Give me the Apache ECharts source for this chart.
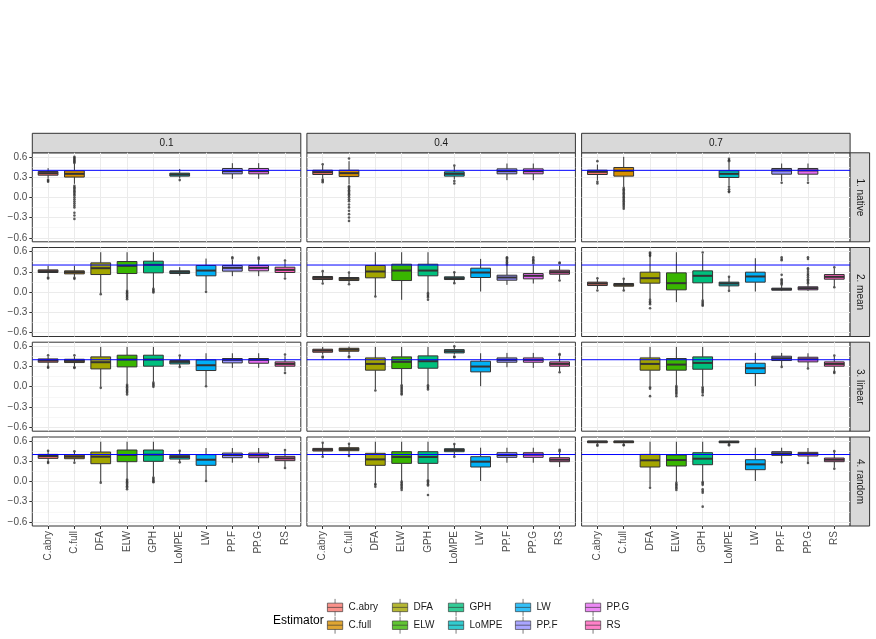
<!DOCTYPE html>
<html>
<head>
<meta charset="utf-8">
<script src="https://cdn.jsdelivr.net/npm/echarts@6.0.0/dist/echarts.min.js"></script>
<style>
  html, body { margin: 0; padding: 0; background: #fff; }
  #chart { width: 876px; height: 639px; }
</style>
</head>
<body>
<div id="chart"></div>
<script>
// 估計量與配色 (ggplot hue)
const estimators = ['C.abry', 'C.full', 'DFA', 'ELW', 'GPH', 'LoMPE', 'LW', 'PP.F', 'PP.G', 'RS'];
const colors = ['#F8766D', '#D89000', '#A3A500', '#39B600', '#00BF7D', '#00BFC4', '#00B0F6', '#9590FF', '#E76BF3', '#FF62BC'];
const phis = ['0.1', '0.4', '0.7'];
const methods = ['1. native', '2. mean', '3. linear', '4. random'];
const yTicks = [-0.6, -0.3, 0, 0.3, 0.6];
const yMinor = [-0.45, -0.15, 0.15, 0.45];
const xTicks = [0, 1, 2, 3, 4, 5, 6, 7, 8, 9];
const trueValue = 0.4;

// 每個箱子 [min, q1, median, q3, max]，null = 沒有資料
const native01 = [
  [0.28, 0.328, 0.358, 0.383, 0.432], [0.2, 0.30, 0.348, 0.393, 0.5], null, null, null,
  [0.28, 0.314, 0.338, 0.358, 0.42], null,
  [0.274, 0.348, 0.388, 0.427, 0.506], [0.274, 0.348, 0.388, 0.427, 0.506], null
];
const native04 = [
  [0.28, 0.338, 0.373, 0.402, 0.477], [0.19, 0.309, 0.358, 0.402, 0.536], null, null, null,
  [0.264, 0.314, 0.348, 0.378, 0.457], null,
  [0.254, 0.348, 0.388, 0.422, 0.501], [0.254, 0.348, 0.388, 0.422, 0.501], null
];
const native07 = [
  [0.25, 0.338, 0.378, 0.402, 0.486], [0.156, 0.314, 0.393, 0.442, 0.6], null, null, null,
  [0.175, 0.294, 0.348, 0.393, 0.521], null,
  [0.24, 0.343, 0.398, 0.427, 0.501], [0.24, 0.343, 0.398, 0.427, 0.501], null
];
const mean01 = [
  [0.23, 0.289, 0.309, 0.328, 0.388], [0.225, 0.269, 0.294, 0.314, 0.388],
  [-0.017, 0.259, 0.353, 0.432, 0.59], [0.032, 0.274, 0.388, 0.452, 0.59], [0.057, 0.284, 0.403, 0.457, 0.59],
  [0.24, 0.274, 0.299, 0.314, 0.368], [0.022, 0.24, 0.318, 0.393, 0.496],
  [0.235, 0.309, 0.358, 0.393, 0.476], [0.235, 0.314, 0.358, 0.393, 0.476], [0.22, 0.289, 0.328, 0.368, 0.452]
];
const mean04 = [
  [0.141, 0.185, 0.21, 0.23, 0.294], [0.126, 0.17, 0.195, 0.215, 0.279],
  [-0.057, 0.21, 0.304, 0.393, 0.59], [-0.116, 0.17, 0.318, 0.412, 0.59], [-0.007, 0.24, 0.318, 0.412, 0.59],
  [0.141, 0.185, 0.205, 0.225, 0.289], [0.007, 0.215, 0.289, 0.353, 0.491],
  [0.106, 0.175, 0.215, 0.249, 0.388], [0.126, 0.195, 0.24, 0.274, 0.398], [0.185, 0.264, 0.294, 0.323, 0.388]
];
const mean07 = [
  [0.042, 0.096, 0.126, 0.146, 0.19], [0.032, 0.086, 0.106, 0.126, 0.18],
  [-0.106, 0.131, 0.205, 0.294, 0.565], [-0.15, 0.032, 0.131, 0.284, 0.59], [-0.116, 0.136, 0.24, 0.314, 0.565],
  [0.032, 0.091, 0.126, 0.146, 0.215], [0.007, 0.146, 0.23, 0.294, 0.501],
  [0.017, 0.027, 0.042, 0.057, 0.1], [0.017, 0.032, 0.057, 0.077, 0.12], [0.081, 0.19, 0.225, 0.259, 0.353]
];
const linear01 = [
  [0.304, 0.363, 0.388, 0.412, 0.45], [0.304, 0.358, 0.383, 0.407, 0.45],
  [-0.002, 0.264, 0.363, 0.442, 0.59], [0.042, 0.294, 0.403, 0.467, 0.59], [0.072, 0.304, 0.403, 0.467, 0.59],
  [0.299, 0.338, 0.368, 0.388, 0.45], [0.022, 0.24, 0.318, 0.398, 0.496],
  [0.279, 0.353, 0.398, 0.418, 0.496], [0.279, 0.348, 0.398, 0.418, 0.496], [0.23, 0.304, 0.338, 0.368, 0.452]
];
const linear04 = [
  [0.476, 0.511, 0.536, 0.556, 0.59], [0.476, 0.526, 0.55, 0.57, 0.595],
  [-0.042, 0.245, 0.338, 0.427, 0.59], [0.032, 0.269, 0.368, 0.442, 0.59], [0.032, 0.274, 0.378, 0.457, 0.59],
  [0.476, 0.501, 0.526, 0.55, 0.59], [0.007, 0.22, 0.299, 0.378, 0.496],
  [0.289, 0.363, 0.398, 0.427, 0.501], [0.279, 0.363, 0.398, 0.427, 0.501], [0.23, 0.304, 0.338, 0.368, 0.452]
];
const linear07 = [
  null, null,
  [0.007, 0.245, 0.338, 0.427, 0.59], [0.022, 0.245, 0.328, 0.418, 0.59], [0.007, 0.259, 0.353, 0.442, 0.59],
  null, [0.007, 0.195, 0.274, 0.348, 0.501],
  [0.304, 0.388, 0.422, 0.452, 0.501], [0.279, 0.368, 0.407, 0.437, 0.496], [0.23, 0.304, 0.338, 0.368, 0.452]
];
const random01 = [
  [0.294, 0.343, 0.378, 0.402, 0.45], [0.294, 0.338, 0.368, 0.393, 0.44],
  [-0.007, 0.264, 0.368, 0.437, 0.59], [0.042, 0.294, 0.393, 0.467, 0.59], [0.072, 0.299, 0.398, 0.467, 0.59],
  [0.294, 0.333, 0.363, 0.388, 0.45], [0.022, 0.24, 0.323, 0.398, 0.496],
  [0.279, 0.353, 0.393, 0.422, 0.496], [0.279, 0.353, 0.388, 0.422, 0.496], [0.215, 0.309, 0.343, 0.373, 0.457]
];
const random04 = [
  [0.378, 0.452, 0.472, 0.491, 0.565], [0.388, 0.457, 0.481, 0.501, 0.555],
  [-0.027, 0.24, 0.328, 0.418, 0.59], [0.007, 0.269, 0.363, 0.442, 0.59], [0.032, 0.269, 0.363, 0.442, 0.59],
  [0.378, 0.442, 0.467, 0.486, 0.55], [0.007, 0.215, 0.294, 0.368, 0.501],
  [0.279, 0.358, 0.393, 0.427, 0.501], [0.279, 0.358, 0.398, 0.427, 0.501], [0.215, 0.294, 0.323, 0.353, 0.437]
];
const random07 = [
  [0.56, 0.575, 0.59, 0.6, 0.6], [0.56, 0.575, 0.59, 0.6, 0.6],
  [-0.077, 0.215, 0.314, 0.402, 0.59], [-0.007, 0.23, 0.318, 0.393, 0.59], [0.002, 0.249, 0.338, 0.427, 0.59],
  [0.56, 0.575, 0.585, 0.6, 0.6], [0.007, 0.175, 0.254, 0.323, 0.501],
  [0.289, 0.388, 0.417, 0.442, 0.501], [0.279, 0.378, 0.407, 0.432, 0.496], [0.205, 0.294, 0.323, 0.348, 0.437]
];

// 離群值 [估計量索引, 值]
const native01Out = [[0, 0.26], [0, 0.245], [0, 0.23],
  [1, 0.6], [1, 0.585], [1, 0.57], [1, 0.555], [1, 0.54], [1, 0.525], [1, 0.51],
  [1, 0.17], [1, 0.15], [1, 0.13], [1, 0.11], [1, 0.09], [1, 0.07], [1, 0.05], [1, 0.03], [1, 0.0],
  [1, -0.03], [1, -0.06], [1, -0.09], [1, -0.12], [1, -0.15], [1, -0.23], [1, -0.27], [1, -0.32], [5, 0.255]];
const native04Out = [[0, 0.49], [0, 0.264], [0, 0.245], [0, 0.225],
  [1, 0.575], [1, 0.165], [1, 0.145], [1, 0.125], [1, 0.105], [1, 0.085], [1, 0.065], [1, 0.045], [1, 0.025],
  [1, 0.0], [1, -0.03], [1, -0.057], [1, -0.106], [1, -0.15], [1, -0.2], [1, -0.25], [1, -0.3], [1, -0.35],
  [5, 0.47], [5, 0.24], [5, 0.205]];
const native07Out = [[0, 0.536], [0, 0.23], [0, 0.205],
  [1, 0.14], [1, 0.12], [1, 0.1], [1, 0.08], [1, 0.06], [1, 0.04], [1, 0.02], [1, 0.0], [1, -0.02],
  [1, -0.04], [1, -0.06], [1, -0.08], [1, -0.1], [1, -0.12], [1, -0.145], [1, -0.17],
  [5, 0.57], [5, 0.55], [5, 0.536], [5, 0.156], [5, 0.12], [5, 0.09], [5, 0.077], [7, 0.215], [8, 0.215]];
const mean01Out = [[0, 0.215], [0, 0.2], [1, 0.21], [1, 0.195], [2, -0.032],
  [3, 0.017], [3, 0.0], [3, -0.02], [3, -0.04], [3, -0.06], [3, -0.08], [3, -0.106],
  [4, 0.047], [4, 0.03], [4, 0.01], [4, -0.007], [6, 0.002],
  [7, 0.516], [7, 0.496], [8, 0.511], [8, 0.49], [9, 0.467], [9, 0.2]];
const mean04Out = [[0, 0.309], [0, 0.126], [1, 0.289], [1, 0.116], [2, -0.067],
  [4, -0.017], [4, -0.04], [4, -0.06], [4, -0.08], [4, -0.116], [5, 0.294], [5, 0.131],
  [7, 0.403], [7, 0.42], [7, 0.44], [7, 0.46], [7, 0.48], [7, 0.5], [7, 0.516],
  [8, 0.427], [8, 0.45], [8, 0.47], [8, 0.49], [8, 0.516], [9, 0.437], [9, 0.427], [9, 0.17]];
const mean07Out = [[0, 0.205], [0, 0.022], [1, 0.195], [1, 0.022],
  [2, 0.585], [2, 0.57], [2, 0.55], [2, 0.536], [2, -0.116], [2, -0.14], [2, -0.16], [2, -0.18], [2, -0.24],
  [4, 0.585], [4, -0.126], [4, -0.15], [4, -0.17], [4, -0.19], [4, -0.205], [5, 0.225], [5, 0.017],
  [7, 0.516], [7, 0.49], [7, 0.47], [7, 0.254], [7, 0.19], [7, 0.17], [7, 0.15], [7, 0.13], [7, 0.11],
  [8, 0.516], [8, 0.49], [8, 0.353], [8, 0.33], [8, 0.3], [8, 0.27], [8, 0.25], [8, 0.22], [8, 0.19],
  [8, 0.17], [8, 0.15], [8, 0.13], [9, 0.368], [9, 0.07]];
const linear01Out = [[0, 0.467], [0, 0.294], [0, 0.28], [1, 0.467], [1, 0.289], [1, 0.279], [2, -0.017],
  [3, 0.03], [3, 0.01], [3, -0.01], [3, -0.03], [3, -0.05], [3, -0.07], [3, -0.09], [3, -0.116],
  [4, 0.06], [4, 0.04], [4, 0.02], [4, -0.002], [5, 0.462], [5, 0.294], [6, 0.007], [9, 0.476], [9, 0.205]];
const linear04Out = [[0, 0.447], [0, 0.432], [1, 0.452], [1, 0.437], [2, -0.057],
  [3, 0.02], [3, 0.0], [3, -0.02], [3, -0.04], [3, -0.06], [3, -0.08], [3, -0.1], [3, -0.116],
  [4, 0.02], [4, 0.0], [4, -0.02], [4, -0.042], [5, 0.6], [5, 0.447], [5, 0.437],
  [9, 0.486], [9, 0.47], [9, 0.215]];
const linear07Out = [[2, -0.01], [2, -0.03], [2, -0.14],
  [3, 0.01], [3, -0.01], [3, -0.03], [3, -0.05], [3, -0.07], [3, -0.09], [3, -0.11], [3, -0.14],
  [4, -0.01], [4, -0.03], [4, -0.05], [4, -0.07], [4, -0.09], [4, -0.126],
  [7, 0.294], [8, 0.269], [9, 0.462], [9, 0.22], [9, 0.205]];
const random01Out = [[0, 0.457], [0, 0.289], [0, 0.274], [1, 0.447], [1, 0.279], [2, -0.017],
  [3, 0.03], [3, 0.01], [3, -0.01], [3, -0.03], [3, -0.05], [3, -0.07], [3, -0.09], [3, -0.116],
  [4, 0.06], [4, 0.04], [4, 0.02], [4, 0.0], [4, -0.012], [5, 0.457], [5, 0.284], [6, 0.007],
  [9, 0.467], [9, 0.2]];
const random04Out = [[0, 0.575], [0, 0.368], [1, 0.56], [1, 0.378], [2, -0.037], [2, -0.05], [2, -0.077],
  [3, -0.002], [3, -0.02], [3, -0.04], [3, -0.06], [3, -0.08], [3, -0.1], [3, -0.126],
  [4, 0.017], [4, 0.0], [4, -0.02], [4, -0.04], [4, -0.06], [4, -0.2], [5, 0.555], [5, 0.368],
  [9, 0.47], [9, 0.45]];
const random07Out = [[0, 0.545], [0, 0.531], [1, 0.545], [1, 0.536], [2, -0.092],
  [3, -0.02], [3, -0.04], [3, -0.06], [3, -0.08], [3, -0.1], [3, -0.126],
  [4, -0.01], [4, -0.03], [4, -0.05], [4, -0.116], [4, -0.14], [4, -0.165], [4, -0.373],
  [5, 0.55], [5, 0.536], [7, 0.284], [8, 0.274], [9, 0.45], [9, 0.19]];

const boxes = [
  [native01, native04, native07],
  [mean01, mean04, mean07],
  [linear01, linear04, linear07],
  [random01, random04, random07]
];
const outliers = [
  [native01Out, native04Out, native07Out],
  [mean01Out, mean04Out, mean07Out],
  [linear01Out, linear04Out, linear07Out],
  [random01Out, random04Out, random07Out]
];

const FONT = '"Liberation Sans", Arial, Helvetica, sans-serif';
const colLeft = [32.3, 306.9, 581.6];
const panelW = 268.5;
const rowTop = [152.8, 247.5, 342.2, 437];
const panelH = 89;
const stripColor = '#D9D9D9';
const dark = '#333333';
const hlineColor = '#0000FF';
// 圖例每欄的左邊位置（兩個一欄）
const legendLeft = [327, 392, 448, 515, 585];

// 畫 ggplot 風格的箱子（沒有鬚端橫線）
function renderBox(params, api) {
  const i = api.value(0);
  const lo = api.coord([i, api.value(1)]);
  const q1 = api.coord([i, api.value(2)]);
  const md = api.coord([i, api.value(3)]);
  const q3 = api.coord([i, api.value(4)]);
  const hi = api.coord([i, api.value(5)]);
  const w = api.size([0.75, 0])[0];
  const x0 = q1[0] - w / 2;
  return {
    type: 'group',
    children: [
      { type: 'line', shape: { x1: lo[0], y1: lo[1], x2: q1[0], y2: q1[1] }, style: { stroke: dark, lineWidth: 1 } },
      { type: 'line', shape: { x1: q3[0], y1: q3[1], x2: hi[0], y2: hi[1] }, style: { stroke: dark, lineWidth: 1 } },
      { type: 'rect', shape: { x: x0, y: q3[1], width: w, height: q1[1] - q3[1] }, style: { fill: colors[i], stroke: dark, lineWidth: 1 } },
      { type: 'line', shape: { x1: x0, y1: md[1], x2: x0 + w, y2: md[1] }, style: { stroke: dark, lineWidth: 2 } }
    ]
  };
}

// 參考線：用座標系換算 trueValue 的位置，橫跨整個 x 範圍
function renderHLine(params, api) {
  const a = api.coord([-0.6, api.value(0)]);
  const b = api.coord([9.6, api.value(0)]);
  return {
    type: 'line',
    shape: { x1: a[0], y1: a[1], x2: b[0], y2: b[1] },
    style: { stroke: hlineColor, lineWidth: 1 }
  };
}

const grids = [];
const xAxes = [];
const yAxes = [];
const series = [];
const graphics = [];

methods.forEach((m, r) => {
  phis.forEach((p, c) => {
    const k = r * 3 + c;
    const bottomRow = r === methods.length - 1;
    const leftCol = c === 0;
    grids.push({
      left: colLeft[c], top: rowTop[r], width: panelW, height: panelH,
      show: true, backgroundColor: '#fff', borderColor: dark, borderWidth: 1,
      containLabel: false, outerBoundsMode: 'none'
    });
    xAxes.push({
      type: 'value', gridIndex: k, min: -0.6, max: 9.6, position: 'bottom',
      axisLine: { show: false, onZero: false },
      axisTick: { show: bottomRow, customValues: xTicks, length: 3, lineStyle: { color: dark } },
      axisLabel: {
        show: bottomRow, customValues: xTicks, rotate: 90, margin: 5, hideOverlap: false,
        fontSize: 10, color: '#4D4D4D', fontFamily: FONT,
        formatter: (v) => estimators[Math.round(v)]
      },
      splitLine: { show: true, lineStyle: { color: '#EBEBEB', width: 1 } }
    });
    yAxes.push({
      type: 'value', gridIndex: k, min: -0.66, max: 0.66, position: 'left',
      axisLine: { show: false, onZero: false },
      axisTick: { show: leftCol, customValues: yTicks, length: 3, lineStyle: { color: dark } },
      axisLabel: {
        show: leftCol, customValues: yTicks, margin: 5, hideOverlap: false,
        fontSize: 10, color: '#4D4D4D', fontFamily: FONT,
        formatter: (v) => (v < 0 ? '\u2212' : '') + Math.abs(v).toFixed(1)
      },
      splitLine: { show: true, lineStyle: { color: '#EBEBEB', width: 1.1 } }
    });
    yAxes.push({
      type: 'value', gridIndex: k, min: -0.66, max: 0.66, position: 'right',
      axisLine: { show: false, onZero: false },
      axisTick: { show: false, customValues: yMinor },
      axisLabel: { show: false, customValues: yMinor },
      splitLine: { show: true, lineStyle: { color: '#F1F1F1', width: 0.6 } }
    });

    series.push({
      type: 'custom', xAxisIndex: k, yAxisIndex: 2 * k, z: 2, silent: true,
      encode: { x: 0, y: [1, 2, 3, 4, 5] },
      data: boxes[r][c].map((b, i) => (b ? [i].concat(b) : null)).filter(Boolean),
      renderItem: renderBox
    });
    series.push({
      type: 'scatter', xAxisIndex: k, yAxisIndex: 2 * k, z: 3, silent: true,
      symbolSize: 2.6, itemStyle: { color: dark },
      data: outliers[r][c]
    });
    series.push({
      type: 'custom', xAxisIndex: k, yAxisIndex: 2 * k, z: 4, silent: true,
      encode: { y: 0 },
      data: [[trueValue]],
      renderItem: renderHLine
    });

    // 上方 strip
    if (r === 0) {
      graphics.push({
        type: 'rect', shape: { x: colLeft[c], y: 133.3, width: panelW, height: 19.5 },
        style: { fill: stripColor, stroke: dark, lineWidth: 1 }, silent: true
      });
      graphics.push({
        type: 'text', x: colLeft[c] + panelW / 2, y: 143.2, silent: true,
        style: { text: p, align: 'center', verticalAlign: 'middle', fill: '#1A1A1A', font: '10px ' + FONT }
      });
    }
  });
  // 右側 strip
  graphics.push({
    type: 'rect', shape: { x: 850.1, y: rowTop[r], width: 19.5, height: panelH },
    style: { fill: stripColor, stroke: dark, lineWidth: 1 }, silent: true
  });
  graphics.push({
    type: 'text', x: 860, y: rowTop[r] + panelH / 2, rotation: -Math.PI / 2, silent: true,
    style: { text: m, align: 'center', verticalAlign: 'middle', fill: '#1A1A1A', font: '10px ' + FONT }
  });
});

// 圖例用的空 series
estimators.forEach((name, i) => {
  series.push({ type: 'scatter', name, xAxisIndex: 0, yAxisIndex: 0, data: [], itemStyle: { color: colors[i] } });
});

// 圖例：五欄，每欄兩個
const legends = legendLeft.map((left, j) => ({
  data: estimators.slice(j * 2, j * 2 + 2), orient: 'vertical', left, top: 598.5, padding: 0, itemGap: 0,
  itemWidth: 17, itemHeight: 17, selectedMode: false,
  icon: 'path://M10,0V5M10,15V20M1,5H19V15H1ZM1,10H19',
  itemStyle: { borderColor: dark, borderWidth: 0.8 },
  textStyle: { fontSize: 10, color: '#1A1A1A', fontFamily: FONT }
}));

graphics.push({
  type: 'text', x: 273, y: 621, silent: true,
  style: { text: 'Estimator', align: 'left', verticalAlign: 'middle', fill: '#000', font: '12px ' + FONT }
});

const chart = echarts.init(document.getElementById('chart'), null, { renderer: 'canvas' });
chart.setOption({
  animation: false,
  backgroundColor: '#fff',
  textStyle: { fontFamily: FONT },
  grid: grids,
  xAxis: xAxes,
  yAxis: yAxes,
  legend: legends,
  graphic: graphics,
  series
});
</script>
</body>
</html>
